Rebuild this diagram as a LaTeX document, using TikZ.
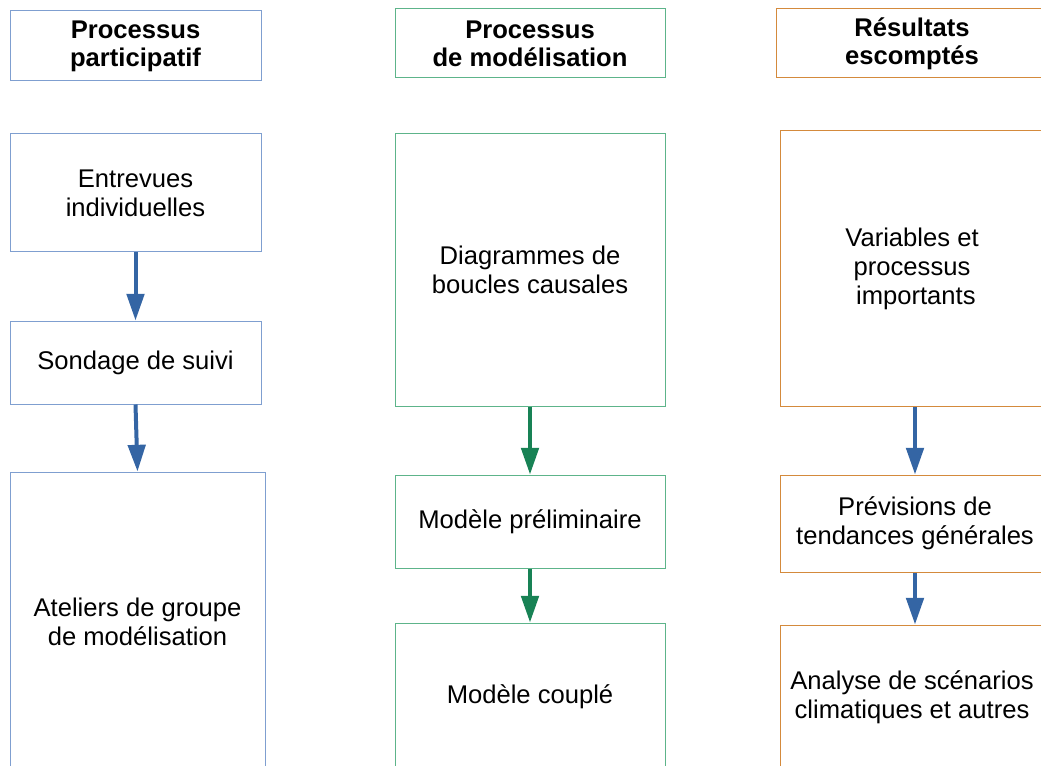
\documentclass[tikz,border=0pt]{standalone}
\usepackage{fontspec}
\setmainfont{Liberation Sans}
\usepackage{xcolor}
\usepackage{tikz}
\usetikzlibrary{arrows.meta}

\definecolor{partblue}{HTML}{7F9FD0}
\definecolor{modgreen}{HTML}{5DB48A}
\definecolor{resorange}{HTML}{D48A3C}
\definecolor{arrblue}{HTML}{3465A4}
\definecolor{arrgreen}{HTML}{188255}

\tikzset{
	box/.style={rectangle, draw, fill=white, line width=0.75pt, align=center,
		inner sep=0pt, font=\fontsize{19.2}{21.75}\selectfont},
	head/.style={box, font=\bfseries\fontsize{19.2}{21}\selectfont},
	flow/.style={-{Triangle[length=20pt, width=13pt]}, line width=3pt}
}

\begin{document}
\begin{tikzpicture}[x=0.75pt, y=-0.75pt]
		\useasboundingbox (0,0) rectangle (1041,766);
		\clip (0,0) rectangle (1041,766);

		% participatory process
		\node[head, draw=partblue, minimum width=251*0.75, minimum height=70*0.75] (P0) at (135.5, 46) {Processus\\participatif};
		\node[box, draw=partblue, minimum width=251*0.75, minimum height=118*0.75] (ent) at (135.5, 193) {Entrevues\\individuelles};
		\node[box, draw=partblue, minimum width=251*0.75, minimum height=83*0.75] (son) at (135.5, 362.5) {Sondage de suivi};
		\node[box, draw=partblue, minimum width=255*0.75, minimum height=300*0.75] (atl) at (137.5, 622) {Ateliers de groupe\\de modélisation};

		% modelling process
		\node[head, draw=modgreen, minimum width=270*0.75, minimum height=69*0.75] (M0) at (530, 43.5) {Processus\\de modélisation};
		\node[box, draw=modgreen, minimum width=270*0.75, minimum height=272*0.75] (dia) at (530, 270) {Diagrammes de\\boucles causales};
		\node[box, draw=modgreen, minimum width=270*0.75, minimum height=93*0.75] (pre) at (530, 521.5) {Modèle préliminaire};
		\node[box, draw=modgreen, minimum width=270*0.75, minimum height=148*0.75] (cou) at (530, 697) {Modèle couplé};

		% expected results
		\node[head, draw=resorange, minimum width=272*0.75, minimum height=69*0.75] (R0) at (912, 43.5) {Résultats\\escomptés};
		\node[box, draw=resorange, minimum width=264*0.75, minimum height=276*0.75] (var) at (912, 268.5) {Variables et\\processus\\\hspace*{0.3em}importants};
		\node[box, draw=resorange, minimum width=270*0.75, minimum height=97*0.75] (pre2) at (915, 523.5) {Prévisions de\\tendances générales};
		\node[box, draw=resorange, minimum width=264*0.75, minimum height=144*0.75] (ana) at (912, 697) {Analyse de scénarios\\climatiques et autres};

		\draw[flow, arrblue] (ent.south) -- (son.north);
		\draw[flow, arrblue] (son.south) -- (atl.north);
		\draw[flow, arrgreen] (dia.south) -- (pre.north);
		\draw[flow, arrgreen] (pre.south) -- (cou.north);
		\draw[flow, arrblue] (var.south -| pre2.north) -- (pre2.north);
		\draw[flow, arrblue] (pre2.south) -- (ana.north -| pre2.south);
	\end{tikzpicture}
\end{document}
